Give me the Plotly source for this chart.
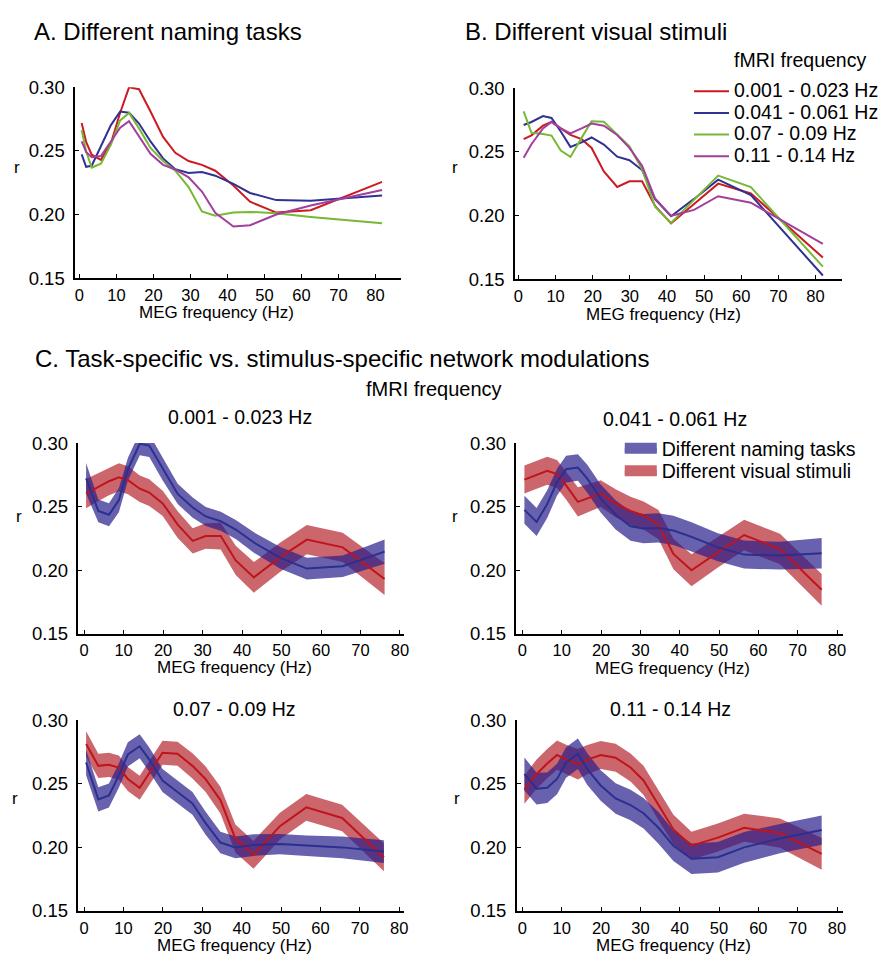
import plotly.graph_objects as go

W, H = 884, 964

# ---------------- data ----------------
fmri_bands = ["0.001 - 0.023 Hz", "0.041 - 0.061 Hz", "0.07 - 0.09 Hz", "0.11 - 0.14 Hz"]
conditions = ["Different naming tasks", "Different visual stimuli"]

# Panel A: different naming tasks (r vs MEG frequency, one line per fMRI band)
meg_freq_A = [0.6, 1.8, 3.3, 5.8, 8.5, 11.0, 13.4, 16.1, 19.2, 22.6, 25.9, 29.5, 33.1, 36.7, 41.6, 46.1, 53.2, 62.5, 81.8]
A_band1 = [0.272, 0.257, 0.247, 0.243, 0.256, 0.280, 0.300, 0.2985, 0.281, 0.261, 0.2485, 0.242, 0.239, 0.2344, 0.2228, 0.210, 0.2015, 0.2033, 0.2256]
A_band2 = [0.2472, 0.2375, 0.2383, 0.2536, 0.2703, 0.2810, 0.2800, 0.2715, 0.2574, 0.2441, 0.2356, 0.2326, 0.2333, 0.2305, 0.2241, 0.2169, 0.2113, 0.2108, 0.2149]
A_band3 = [0.2664, 0.2497, 0.2369, 0.2400, 0.2549, 0.2740, 0.2798, 0.2677, 0.2523, 0.2420, 0.2344, 0.2215, 0.2023, 0.1990, 0.2015, 0.2020, 0.2010, 0.1980, 0.1930]
A_band4 = [0.2574, 0.2492, 0.2451, 0.2459, 0.2574, 0.2682, 0.2733, 0.2613, 0.2477, 0.2390, 0.2354, 0.2292, 0.2180, 0.2013, 0.1905, 0.1915, 0.2000, 0.2070, 0.2192]

# Panel B: different visual stimuli
meg_freq_B = [1.4, 3.5, 6.6, 8.9, 11.4, 14.0, 17.0, 19.7, 23.0, 26.6, 29.9, 33.3, 36.8, 41.1, 47.3, 53.8, 62.6, 82.0]
B_band1 = [0.260, 0.263, 0.2706, 0.2736, 0.2685, 0.2634, 0.2600, 0.2531, 0.2346, 0.2224, 0.2269, 0.2269, 0.2075, 0.1938, 0.2090, 0.2250, 0.2173, 0.1669]
B_band2 = [0.2711, 0.2735, 0.2782, 0.2767, 0.2660, 0.2539, 0.2575, 0.2613, 0.2557, 0.2462, 0.2434, 0.2357, 0.2127, 0.1994, 0.2130, 0.2281, 0.2160, 0.1528]
B_band3 = [0.2818, 0.2650, 0.2640, 0.2628, 0.2510, 0.2460, 0.2610, 0.2741, 0.2736, 0.2633, 0.2543, 0.2364, 0.2069, 0.1941, 0.2121, 0.2313, 0.2223, 0.1597]
B_band4 = [0.2454, 0.2560, 0.2685, 0.2736, 0.2685, 0.2646, 0.2685, 0.2723, 0.2705, 0.2633, 0.2531, 0.2390, 0.2133, 0.1997, 0.2044, 0.2151, 0.2100, 0.1776]

# Panel C: task-specific vs stimulus-specific (mean and half-width of shaded band)
meg_freq_C = [0.5, 3.6, 6.3, 8.8, 11.1, 14.1, 16.5, 19.9, 23.7, 27.5, 30.8, 34.6, 38.4, 43.0, 49.7, 56.4, 65.5, 76.1]

C1_tasks = [0.2723, 0.2467, 0.2436, 0.2552, 0.2795, 0.2995, 0.2980, 0.2795, 0.2600, 0.2493, 0.2423, 0.2385, 0.2320, 0.2218, 0.2097, 0.2013, 0.2031, 0.2146]
C1_tasks_err = [0.012, 0.009, 0.009, 0.0095, 0.009, 0.009, 0.009, 0.009, 0.008, 0.008, 0.0075, 0.0075, 0.0075, 0.008, 0.0085, 0.0085, 0.0085, 0.0095]
C1_stim = [0.2603, 0.2654, 0.2700, 0.2731, 0.2708, 0.2641, 0.2611, 0.2526, 0.2359, 0.2231, 0.2269, 0.2269, 0.2077, 0.1944, 0.2103, 0.2241, 0.2180, 0.1931]
C1_stim_err = [0.0115, 0.011, 0.011, 0.011, 0.011, 0.0105, 0.0105, 0.010, 0.0105, 0.010, 0.010, 0.0105, 0.0115, 0.012, 0.0115, 0.0115, 0.0115, 0.0125]

C2_tasks = [0.2475, 0.2380, 0.2520, 0.2693, 0.2795, 0.2808, 0.2720, 0.2564, 0.2436, 0.2346, 0.2328, 0.2333, 0.2313, 0.2262, 0.2180, 0.2123, 0.2115, 0.2134]
C2_tasks_err = [0.011, 0.011, 0.011, 0.0105, 0.0105, 0.0105, 0.011, 0.011, 0.0115, 0.0115, 0.0115, 0.0115, 0.0115, 0.0115, 0.011, 0.011, 0.011, 0.012]
C2_stim = [0.2713, 0.2749, 0.2782, 0.2756, 0.2667, 0.2538, 0.2564, 0.2603, 0.2526, 0.2467, 0.2431, 0.2359, 0.2128, 0.2000, 0.2141, 0.2277, 0.2167, 0.1846]
C2_stim_err = [0.011, 0.011, 0.011, 0.011, 0.011, 0.0115, 0.011, 0.0105, 0.011, 0.011, 0.011, 0.0115, 0.012, 0.0125, 0.012, 0.012, 0.012, 0.0125]

C3_tasks = [0.2667, 0.2377, 0.2408, 0.2564, 0.2731, 0.2795, 0.2692, 0.2526, 0.2436, 0.2346, 0.2192, 0.2038, 0.2000, 0.2018, 0.2026, 0.2013, 0.2000, 0.1967]
C3_tasks_err = [0.010, 0.0095, 0.0095, 0.0095, 0.0095, 0.0095, 0.0095, 0.009, 0.009, 0.009, 0.009, 0.0085, 0.0085, 0.0085, 0.008, 0.008, 0.0085, 0.009]
C3_stim = [0.2813, 0.2641, 0.2649, 0.2628, 0.2538, 0.2469, 0.2582, 0.2744, 0.2736, 0.2641, 0.2538, 0.2372, 0.2069, 0.1941, 0.2167, 0.2315, 0.2231, 0.1923]
C3_stim_err = [0.010, 0.0095, 0.0095, 0.0095, 0.0095, 0.0095, 0.0095, 0.0095, 0.0095, 0.010, 0.010, 0.0105, 0.011, 0.011, 0.0105, 0.0105, 0.0105, 0.011]

C4_tasks = [0.2577, 0.2462, 0.2469, 0.2538, 0.2667, 0.2736, 0.2615, 0.2487, 0.2385, 0.2333, 0.2269, 0.2154, 0.2013, 0.1910, 0.1923, 0.2000, 0.2069, 0.2136]
C4_tasks_err = [0.013, 0.0125, 0.012, 0.012, 0.012, 0.012, 0.0125, 0.012, 0.012, 0.012, 0.012, 0.0125, 0.012, 0.012, 0.012, 0.012, 0.0115, 0.0115]
C4_stim = [0.2454, 0.2577, 0.2659, 0.2726, 0.2692, 0.2654, 0.2690, 0.2726, 0.2705, 0.2628, 0.2526, 0.2333, 0.2141, 0.2013, 0.2077, 0.2154, 0.2113, 0.1949]
C4_stim_err = [0.011, 0.0115, 0.0115, 0.0115, 0.0115, 0.012, 0.0115, 0.011, 0.011, 0.011, 0.0115, 0.012, 0.0115, 0.011, 0.011, 0.011, 0.0115, 0.0125]

x_ticks = [0, 10, 20, 30, 40, 50, 60, 70, 80]
y_ticks = [0.15, 0.20, 0.25, 0.30]
y_ticklabels = ["0.15", "0.20", "0.25", "0.30"]

# ---------------- styling ----------------
FONT = "Liberation Sans, Arial, Helvetica, sans-serif"
line_colors = ["#cc1a22", "#2f3292", "#77b834", "#a23f9c"]
red_line, blue_line = "#c0141c", "#2b2f8e"
red_fill, blue_fill = "rgba(180,30,40,0.68)", "rgba(40,30,140,0.70)"
red_fill_solid, blue_fill_solid = "#cc666d", "#6862ae"

def fx(px):
    return px / W

def fy(py):
    return 1 - py / H

# axis placement (pixels): x-domain, y-domain, pixel of 0 Hz, px per Hz
panels = {
    1: dict(xd=(74.7, 403.0), yd=(78.0, 273.0), x0=79.0, k=3.725),
    2: dict(xd=(517.7, 847.0), yd=(79.0, 274.0), x0=521.0, k=3.7375),
    3: dict(xd=(78.0, 406.0), yd=(441.7, 636.7), x0=83.7, k=3.975),
    4: dict(xd=(519.0, 847.3), yd=(441.7, 636.7), x0=525.0, k=3.959),
    5: dict(xd=(78.0, 406.0), yd=(725.0, 920.0), x0=83.7, k=3.966),
    6: dict(xd=(519.3, 847.3), yd=(725.0, 920.0), x0=525.0, k=3.959),
}

fig = go.Figure()

def ax_names(i):
    return ("x" if i == 1 else f"x{i}", "y" if i == 1 else f"y{i}")

# Panels A and B: lines
for i, (freq, series) in enumerate([(meg_freq_A, [A_band1, A_band2, A_band3, A_band4]),
                                     (meg_freq_B, [B_band1, B_band2, B_band3, B_band4])], start=1):
    xa, ya = ax_names(i)
    for j, vals in enumerate(series):
        fig.add_trace(go.Scatter(
            x=freq, y=vals, mode="lines", xaxis=xa, yaxis=ya,
            line=dict(color=line_colors[j], width=2),
            name=f"<span style='font-size:19.5px'>{fmri_bands[j]}</span>",
            showlegend=(i == 2), legend="legend", hoverinfo="skip"))

# Panels C: bands + mean lines
C_data = [(C1_tasks, C1_tasks_err, C1_stim, C1_stim_err),
          (C2_tasks, C2_tasks_err, C2_stim, C2_stim_err),
          (C3_tasks, C3_tasks_err, C3_stim, C3_stim_err),
          (C4_tasks, C4_tasks_err, C4_stim, C4_stim_err)]

for k, (t, te, s, se) in enumerate(C_data):
    xa, ya = ax_names(k + 3)
    for vals, err, col in [(s, se, red_fill), (t, te, blue_fill)]:
        upper = [v + e for v, e in zip(vals, err)]
        lower = [v - e for v, e in zip(vals, err)]
        fig.add_trace(go.Scatter(
            x=meg_freq_C + meg_freq_C[::-1], y=upper + lower[::-1],
            mode="lines", fill="toself", fillcolor=col, line=dict(width=0),
            xaxis=xa, yaxis=ya, showlegend=False, hoverinfo="skip"))
    fig.add_trace(go.Scatter(x=meg_freq_C, y=s, mode="lines", line=dict(color=red_line, width=2),
                             xaxis=xa, yaxis=ya, showlegend=False, hoverinfo="skip"))
    fig.add_trace(go.Scatter(x=meg_freq_C, y=t, mode="lines", line=dict(color=blue_line, width=2),
                             xaxis=xa, yaxis=ya, showlegend=False, hoverinfo="skip"))

# legend proxies for panel C (swatches)
for name, col in [(conditions[0], blue_fill_solid), (conditions[1], red_fill_solid)]:
    fig.add_trace(go.Scatter(
        x=[None], y=[None], mode="lines", fill="toself", fillcolor=col,
        line=dict(color=col, width=10), xaxis="x4", yaxis="y4",
        name=f"<span style='font-size:19.5px'>{name}</span>",
        showlegend=True, legend="legend2"))

layout = dict(
    width=W, height=H, margin=dict(l=0, r=0, t=0, b=0),
    paper_bgcolor="white", plot_bgcolor="rgba(0,0,0,0)",
    font=dict(family=FONT, size=17, color="black"),
    showlegend=True,
)

for i, p in panels.items():
    xa_key = "xaxis" if i == 1 else f"xaxis{i}"
    ya_key = "yaxis" if i == 1 else f"yaxis{i}"
    xa, ya = ax_names(i)
    xr = [(p["xd"][0] - p["x0"]) / p["k"], (p["xd"][1] - p["x0"]) / p["k"]]
    layout[xa_key] = dict(
        domain=[fx(p["xd"][0]), fx(p["xd"][1])], range=xr, anchor=ya,
        showline=True, linecolor="black", linewidth=1.6, mirror=False,
        ticks="inside", ticklen=4, tickwidth=1.4, tickcolor="black",
        tickvals=x_ticks, showgrid=False, zeroline=False,
        tickfont=dict(size=16.5, family=FONT, color="black"), ticklabelstandoff=1)
    layout[ya_key] = dict(
        domain=[fy(p["yd"][1]), fy(p["yd"][0])], range=[0.15, 0.30], anchor=xa,
        showline=True, linecolor="black", linewidth=1.6, mirror=False,
        ticks="inside", ticklen=4, tickwidth=1.4, tickcolor="black",
        tickvals=y_ticks, ticktext=y_ticklabels, showgrid=False, zeroline=False,
        tickfont=dict(size=18.5, family=FONT, color="black"), ticklabelstandoff=5)

layout["legend"] = dict(
    x=fx(693), y=fy(66), xanchor="left", yanchor="top",
    font=dict(size=14.3, family=FONT, color="black"), bgcolor="rgba(0,0,0,0)",
    itemwidth=35, tracegroupgap=0, borderwidth=0)
layout["legend2"] = dict(
    x=fx(623), y=fy(432), xanchor="left", yanchor="top",
    font=dict(size=15, family=FONT, color="black"), bgcolor="rgba(0,0,0,0)",
    itemwidth=32, tracegroupgap=0, borderwidth=0)

ann = []
def text(x, y, s, size, anchor="center"):
    ann.append(dict(x=fx(x), y=fy(y), xref="paper", yref="paper", text=s, showarrow=False,
                    xanchor=anchor, yanchor="middle", font=dict(size=size, family=FONT, color="black")))

text(31, 21, "A. Different naming tasks", 24, "left")
text(465, 21, "B. Different visual stimuli", 24, "left")
text(32, 355, "C. Task-specific vs. stimulus-specific network modulations", 24, "left")
text(736, 50, "fMRI frequency", 19.5, "left")
text(436, 386, "fMRI frequency", 20)
text(240.5, 415, fmri_bands[0], 19.5)
text(679, 417, fmri_bands[1], 19.5)
text(234.7, 714, fmri_bands[2], 19.5)
text(674, 714, fmri_bands[3], 19.5)
for (x, y) in [(217, 308), (667.5, 310), (235.3, 671.5), (676, 672), (235.3, 955.5), (676.7, 955.5)]:
    text(x, y, "MEG frequency (Hz)", 17)
for (x, y) in [(16, 160), (457.3, 160), (18, 516.7), (457.3, 516.7), (14, 805), (459, 805)]:
    text(x, y, "r", 17)
layout["annotations"] = ann

fig.update_layout(**layout)
fig.write_html("out.html")
